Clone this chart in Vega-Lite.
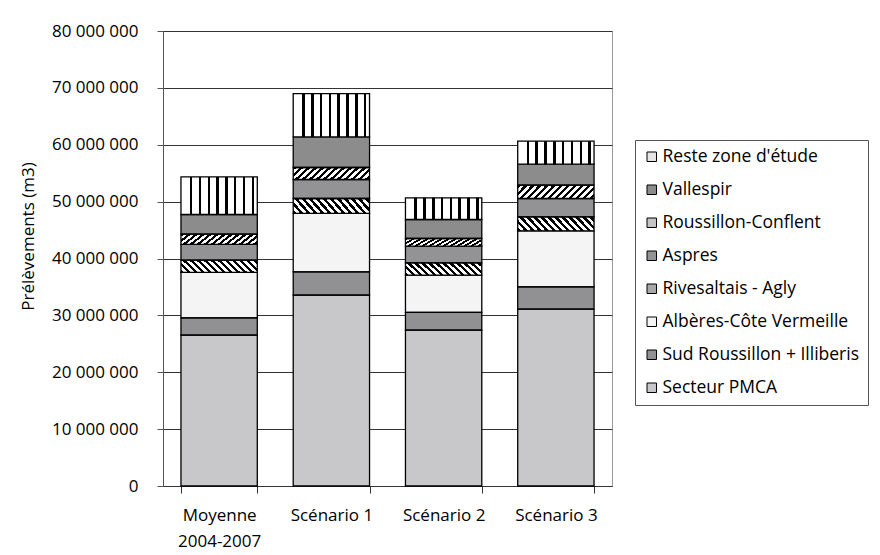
{
  "$schema": "https://vega.github.io/schema/vega-lite/v6.json",
  "width": 449,
  "height": 455,
  "autosize": {"type": "none"},
  "padding": {"left": 163, "top": 31, "right": 268, "bottom": 69},
  "background": "white",
  "config": {
    "font": "Open Sans",
    "locale": {"number": {"decimal": ",", "thousands": " ", "grouping": [3], "currency": ["", " €"]}},
    "view": {"stroke": "#999", "strokeWidth": 1}
  },
  "data": {
    "values": [
      {"scen": "Moyenne 2004-2007", "zone": "Secteur PMCA", "o": 1, "value": 26530000},
      {"scen": "Moyenne 2004-2007", "zone": "Sud Roussillon + Illiberis", "o": 2, "value": 3040000},
      {"scen": "Moyenne 2004-2007", "zone": "Albères-Côte Vermeille", "o": 3, "value": 7980000},
      {"scen": "Moyenne 2004-2007", "zone": "Rivesaltais - Agly", "o": 4, "value": 2160000},
      {"scen": "Moyenne 2004-2007", "zone": "Aspres", "o": 5, "value": 2760000},
      {"scen": "Moyenne 2004-2007", "zone": "Roussillon-Conflent", "o": 6, "value": 1810000},
      {"scen": "Moyenne 2004-2007", "zone": "Vallespir", "o": 7, "value": 3460000},
      {"scen": "Moyenne 2004-2007", "zone": "Reste zone d'étude", "o": 8, "value": 6610000},
      {"scen": "Scénario 1", "zone": "Secteur PMCA", "o": 1, "value": 33560000},
      {"scen": "Scénario 1", "zone": "Sud Roussillon + Illiberis", "o": 2, "value": 4100000},
      {"scen": "Scénario 1", "zone": "Albères-Côte Vermeille", "o": 3, "value": 10260000},
      {"scen": "Scénario 1", "zone": "Rivesaltais - Agly", "o": 4, "value": 2630000},
      {"scen": "Scénario 1", "zone": "Aspres", "o": 5, "value": 3340000},
      {"scen": "Scénario 1", "zone": "Roussillon-Conflent", "o": 6, "value": 2110000},
      {"scen": "Scénario 1", "zone": "Vallespir", "o": 7, "value": 5380000},
      {"scen": "Scénario 1", "zone": "Reste zone d'étude", "o": 8, "value": 7620000},
      {"scen": "Scénario 2", "zone": "Secteur PMCA", "o": 1, "value": 27410000},
      {"scen": "Scénario 2", "zone": "Sud Roussillon + Illiberis", "o": 2, "value": 3110000},
      {"scen": "Scénario 2", "zone": "Albères-Côte Vermeille", "o": 3, "value": 6560000},
      {"scen": "Scénario 2", "zone": "Rivesaltais - Agly", "o": 4, "value": 2160000},
      {"scen": "Scénario 2", "zone": "Aspres", "o": 5, "value": 2930000},
      {"scen": "Scénario 2", "zone": "Roussillon-Conflent", "o": 6, "value": 1350000},
      {"scen": "Scénario 2", "zone": "Vallespir", "o": 7, "value": 3340000},
      {"scen": "Scénario 2", "zone": "Reste zone d'étude", "o": 8, "value": 3800000},
      {"scen": "Scénario 3", "zone": "Secteur PMCA", "o": 1, "value": 31100000},
      {"scen": "Scénario 3", "zone": "Sud Roussillon + Illiberis", "o": 2, "value": 3920000},
      {"scen": "Scénario 3", "zone": "Albères-Côte Vermeille", "o": 3, "value": 9840000},
      {"scen": "Scénario 3", "zone": "Rivesaltais - Agly", "o": 4, "value": 2460000},
      {"scen": "Scénario 3", "zone": "Aspres", "o": 5, "value": 3230000},
      {"scen": "Scénario 3", "zone": "Roussillon-Conflent", "o": 6, "value": 2340000},
      {"scen": "Scénario 3", "zone": "Vallespir", "o": 7, "value": 3690000},
      {"scen": "Scénario 3", "zone": "Reste zone d'étude", "o": 8, "value": 4040000}
    ]
  },
  "encoding": {
    "x": {
      "field": "scen",
      "type": "nominal",
      "sort": ["Moyenne 2004-2007", "Scénario 1", "Scénario 2", "Scénario 3"],
      "scale": {"paddingInner": 0.32, "paddingOuter": 0.16},
      "axis": {
        "title": null,
        "labelAngle": 0,
        "labelFontSize": 17,
        "labelColor": "black",
        "labelPadding": 14,
        "labelLineHeight": 26,
        "labelExpr": "datum.value == 'Moyenne 2004-2007' ? ['Moyenne', '2004-2007'] : datum.value",
        "tickBand": "extent",
        "tickSize": 7,
        "tickColor": "#333",
        "domainColor": "#333"
      }
    },
    "y": {
      "field": "value",
      "type": "quantitative",
      "stack": "zero",
      "scale": {"domain": [0, 80000000], "nice": false},
      "axis": {
        "title": "Prélèvements (m3)",
        "titleFontSize": 17,
        "titleFontWeight": "normal",
        "titleColor": "black",
        "titlePadding": 14,
        "titleY": 205,
        "values": [0, 10000000, 20000000, 30000000, 40000000, 50000000, 60000000, 70000000, 80000000],
        "format": ",d",
        "labelFontSize": 17,
        "labelColor": "black",
        "labelPadding": 19,
        "tickSize": 6,
        "tickColor": "#555",
        "domainColor": "#555",
        "grid": true,
        "gridColor": "#333",
        "gridWidth": 1
      }
    },
    "order": {"field": "o", "type": "quantitative"}
  },
  "layer": [
    {
      "mark": {"type": "bar"},
      "encoding": {
        "color": {
          "field": "zone",
          "type": "nominal",
          "scale": {
            "domain": ["Reste zone d'étude", "Vallespir", "Roussillon-Conflent", "Aspres", "Rivesaltais - Agly", "Albères-Côte Vermeille", "Sud Roussillon + Illiberis", "Secteur PMCA"],
            "range": ["#e6e6e6", "#8c8c8c", "#c4c4c4", "#939395", "#a8a8a8", "#f4f4f4", "#919194", "#c8c8ca"]
          },
          "legend": {
            "title": null,
            "orient": "none",
            "legendX": 472,
            "legendY": 109,
            "direction": "vertical",
            "symbolType": "square",
            "symbolSize": 90,
            "symbolStrokeColor": "black",
            "symbolStrokeWidth": 1,
            "labelFontSize": 17.5,
            "labelColor": "black",
            "labelOffset": 2,
            "labelLimit": 300,
            "rowPadding": 14,
            "padding": 8,
            "strokeColor": "#555",
            "fillColor": "white"
          }
        }
      }
    },
    {
      "mark": {"type": "bar", "stroke": "black", "strokeWidth": 1.3},
      "encoding": {
        "detail": {"field": "zone"},
        "fill": {
          "condition": [
            {
              "test": "datum.o === 8",
              "value": {
                "gradient": "linear", "x1": 0, "y1": 0, "x2": 1, "y2": 0,
                "stops": [
                  {"offset": 0, "color": "white"}, {"offset": 0.118, "color": "white"}, {"offset": 0.118, "color": "black"}, {"offset": 0.151, "color": "black"}, {"offset": 0.151, "color": "white"},
                  {"offset": 0.233, "color": "white"}, {"offset": 0.233, "color": "black"}, {"offset": 0.266, "color": "black"}, {"offset": 0.266, "color": "white"},
                  {"offset": 0.349, "color": "white"}, {"offset": 0.349, "color": "black"}, {"offset": 0.382, "color": "black"}, {"offset": 0.382, "color": "white"},
                  {"offset": 0.464, "color": "white"}, {"offset": 0.464, "color": "black"}, {"offset": 0.497, "color": "black"}, {"offset": 0.497, "color": "white"},
                  {"offset": 0.579, "color": "white"}, {"offset": 0.579, "color": "black"}, {"offset": 0.612, "color": "black"}, {"offset": 0.612, "color": "white"},
                  {"offset": 0.694, "color": "white"}, {"offset": 0.694, "color": "black"}, {"offset": 0.727, "color": "black"}, {"offset": 0.727, "color": "white"},
                  {"offset": 0.810, "color": "white"}, {"offset": 0.810, "color": "black"}, {"offset": 0.843, "color": "black"}, {"offset": 0.843, "color": "white"},
                  {"offset": 0.925, "color": "white"}, {"offset": 0.925, "color": "black"}, {"offset": 0.958, "color": "black"}, {"offset": 0.958, "color": "white"},
                  {"offset": 1, "color": "white"}
                ]
              }
            },
            {
              "test": "datum.o === 6",
              "value": {
                "gradient": "linear", "x1": 0, "y1": 0, "x2": 1.25, "y2": 0.2125,
                "stops": [
                  {"offset": 0, "color": "black"}, {"offset": 0.035, "color": "black"}, {"offset": 0.035, "color": "white"},
                  {"offset": 0.0714, "color": "white"}, {"offset": 0.0714, "color": "black"}, {"offset": 0.1064, "color": "black"}, {"offset": 0.1064, "color": "white"},
                  {"offset": 0.1429, "color": "white"}, {"offset": 0.1429, "color": "black"}, {"offset": 0.1779, "color": "black"}, {"offset": 0.1779, "color": "white"},
                  {"offset": 0.2143, "color": "white"}, {"offset": 0.2143, "color": "black"}, {"offset": 0.2493, "color": "black"}, {"offset": 0.2493, "color": "white"},
                  {"offset": 0.2857, "color": "white"}, {"offset": 0.2857, "color": "black"}, {"offset": 0.3207, "color": "black"}, {"offset": 0.3207, "color": "white"},
                  {"offset": 0.3571, "color": "white"}, {"offset": 0.3571, "color": "black"}, {"offset": 0.3921, "color": "black"}, {"offset": 0.3921, "color": "white"},
                  {"offset": 0.4286, "color": "white"}, {"offset": 0.4286, "color": "black"}, {"offset": 0.4636, "color": "black"}, {"offset": 0.4636, "color": "white"},
                  {"offset": 0.5, "color": "white"}, {"offset": 0.5, "color": "black"}, {"offset": 0.535, "color": "black"}, {"offset": 0.535, "color": "white"},
                  {"offset": 0.5714, "color": "white"}, {"offset": 0.5714, "color": "black"}, {"offset": 0.6064, "color": "black"}, {"offset": 0.6064, "color": "white"},
                  {"offset": 0.6429, "color": "white"}, {"offset": 0.6429, "color": "black"}, {"offset": 0.6779, "color": "black"}, {"offset": 0.6779, "color": "white"},
                  {"offset": 0.7143, "color": "white"}, {"offset": 0.7143, "color": "black"}, {"offset": 0.7493, "color": "black"}, {"offset": 0.7493, "color": "white"},
                  {"offset": 0.7857, "color": "white"}, {"offset": 0.7857, "color": "black"}, {"offset": 0.8207, "color": "black"}, {"offset": 0.8207, "color": "white"},
                  {"offset": 0.8571, "color": "white"}, {"offset": 0.8571, "color": "black"}, {"offset": 0.8921, "color": "black"}, {"offset": 0.8921, "color": "white"},
                  {"offset": 0.9286, "color": "white"}, {"offset": 0.9286, "color": "black"}, {"offset": 0.9636, "color": "black"}, {"offset": 0.9636, "color": "white"},
                  {"offset": 1, "color": "white"}
                ]
              }
            },
            {
              "test": "datum.o === 4",
              "value": {
                "gradient": "linear", "x1": 0, "y1": 1, "x2": 1.25, "y2": 0.7875,
                "stops": [
                  {"offset": 0, "color": "black"}, {"offset": 0.035, "color": "black"}, {"offset": 0.035, "color": "white"},
                  {"offset": 0.0714, "color": "white"}, {"offset": 0.0714, "color": "black"}, {"offset": 0.1064, "color": "black"}, {"offset": 0.1064, "color": "white"},
                  {"offset": 0.1429, "color": "white"}, {"offset": 0.1429, "color": "black"}, {"offset": 0.1779, "color": "black"}, {"offset": 0.1779, "color": "white"},
                  {"offset": 0.2143, "color": "white"}, {"offset": 0.2143, "color": "black"}, {"offset": 0.2493, "color": "black"}, {"offset": 0.2493, "color": "white"},
                  {"offset": 0.2857, "color": "white"}, {"offset": 0.2857, "color": "black"}, {"offset": 0.3207, "color": "black"}, {"offset": 0.3207, "color": "white"},
                  {"offset": 0.3571, "color": "white"}, {"offset": 0.3571, "color": "black"}, {"offset": 0.3921, "color": "black"}, {"offset": 0.3921, "color": "white"},
                  {"offset": 0.4286, "color": "white"}, {"offset": 0.4286, "color": "black"}, {"offset": 0.4636, "color": "black"}, {"offset": 0.4636, "color": "white"},
                  {"offset": 0.5, "color": "white"}, {"offset": 0.5, "color": "black"}, {"offset": 0.535, "color": "black"}, {"offset": 0.535, "color": "white"},
                  {"offset": 0.5714, "color": "white"}, {"offset": 0.5714, "color": "black"}, {"offset": 0.6064, "color": "black"}, {"offset": 0.6064, "color": "white"},
                  {"offset": 0.6429, "color": "white"}, {"offset": 0.6429, "color": "black"}, {"offset": 0.6779, "color": "black"}, {"offset": 0.6779, "color": "white"},
                  {"offset": 0.7143, "color": "white"}, {"offset": 0.7143, "color": "black"}, {"offset": 0.7493, "color": "black"}, {"offset": 0.7493, "color": "white"},
                  {"offset": 0.7857, "color": "white"}, {"offset": 0.7857, "color": "black"}, {"offset": 0.8207, "color": "black"}, {"offset": 0.8207, "color": "white"},
                  {"offset": 0.8571, "color": "white"}, {"offset": 0.8571, "color": "black"}, {"offset": 0.8921, "color": "black"}, {"offset": 0.8921, "color": "white"},
                  {"offset": 0.9286, "color": "white"}, {"offset": 0.9286, "color": "black"}, {"offset": 0.9636, "color": "black"}, {"offset": 0.9636, "color": "white"},
                  {"offset": 1, "color": "white"}
                ]
              }
            }
          ],
          "value": "transparent"
        }
      }
    }
  ]
}
